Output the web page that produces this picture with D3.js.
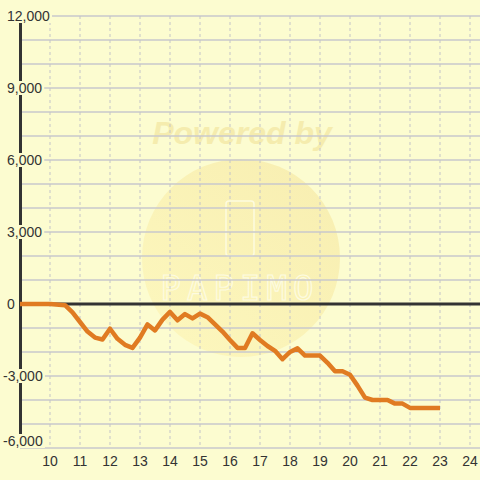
<!DOCTYPE html>
<html><head><meta charset="utf-8">
<script src="https://cdn.jsdelivr.net/npm/d3@7/dist/d3.min.js"></script>
<style>html,body{margin:0;padding:0;background:#fcfcd0;}svg{display:block;}</style>
</head><body><svg id="c" width="480" height="480"></svg>
<script>
const hours = [9,10,10.5,10.75,11,11.25,11.5,11.75,12,12.25,12.5,12.75,13,13.25,13.5,13.75,14,14.25,14.5,14.75,15,15.25,15.5,15.75,16,16.25,16.5,16.75,17,17.25,17.5,17.75,18,18.25,18.5,18.75,19,19.25,19.5,19.75,20,20.25,20.5,20.75,21,21.25,21.5,21.75,22,22.25,22.5,22.75,23];
const values = [0,0,-50,-350,-750,-1150,-1400,-1480,-1030,-1450,-1700,-1830,-1400,-850,-1100,-650,-330,-680,-420,-600,-400,-550,-850,-1150,-1500,-1830,-1830,-1220,-1500,-1750,-1950,-2300,-2000,-1850,-2150,-2150,-2150,-2450,-2800,-2800,-2950,-3400,-3900,-4000,-4000,-4000,-4150,-4150,-4330,-4330,-4330,-4330,-4330];
const xTicks = [10,11,12,13,14,15,16,17,18,19,20,21,22,23,24];
const yTicks = [12000,9000,6000,3000,0,-3000,-6000];
const yGrid = d3.range(-6000, 12001, 1000);

const svg = d3.select("#c");
const x = d3.scaleLinear().domain([9, 24]).range([20, 470]);
const y = d3.scaleLinear().domain([-6000, 12000]).range([448, 16]);

svg.append("rect").attr("width",480).attr("height",480).attr("fill","#fcfcd0");

// watermark
const defs = svg.append("defs");
const g = defs.append("linearGradient").attr("id","wg").attr("x1","0").attr("y1","1").attr("x2","1").attr("y2","0");
g.append("stop").attr("offset","0").attr("stop-color","#fdf6b8");
g.append("stop").attr("offset","1").attr("stop-color","#f6e9a6");
svg.append("circle").attr("cx",241).attr("cy",258).attr("r",99).attr("fill","url(#wg)").attr("opacity",0.75);
svg.append("text").attr("x",242).attr("y",144).attr("text-anchor","middle")
  .attr("font-family","Liberation Sans, Arial, sans-serif").attr("font-weight","bold").attr("font-style","italic")
  .attr("font-size",32).attr("fill","#f5ecae").text("Powered by");
svg.append("rect").attr("x",226).attr("y",201).attr("width",28).attr("height",55).attr("rx",3)
  .attr("fill","none").attr("stroke","#fdfbe0").attr("stroke-width",1.5);
svg.append("text").attr("x",240).attr("y",300).attr("text-anchor","middle")
  .attr("font-family","DejaVu Sans Mono, monospace").attr("font-size",34).attr("letter-spacing",6)
  .attr("fill","none").attr("stroke","#fdfbe0").attr("stroke-width",1.2).text("PAPIMO");

// horizontal grid
svg.append("g").selectAll("line").data(yGrid).join("line")
  .attr("x1",20).attr("x2",480).attr("y1",d=>y(d)).attr("y2",d=>y(d))
  .attr("stroke","#c8c8cc").attr("stroke-width",1.5);
// vertical grid
svg.append("g").selectAll("line").data(xTicks).join("line")
  .attr("x1",d=>x(d)).attr("x2",d=>x(d)).attr("y1",16).attr("y2",448)
  .attr("stroke","#c4c4c8").attr("stroke-width",1).attr("stroke-dasharray","3,3");

// zero line
svg.append("line").attr("x1",20).attr("x2",480).attr("y1",y(0)).attr("y2",y(0))
  .attr("stroke","#333333").attr("stroke-width",3);
// left axis
svg.append("line").attr("x1",20.5).attr("x2",20.5).attr("y1",16).attr("y2",448)
  .attr("stroke","#333333").attr("stroke-width",3);

// series
const line = d3.line().x((d,i)=>x(hours[i])).y(d=>y(d));
svg.append("path").datum(values).attr("d",line).attr("fill","none")
  .attr("stroke","#e07b22").attr("stroke-width",4.5).attr("stroke-linejoin","round");

// y labels with background
const fmt = d3.format(",");
const yl = svg.append("g").selectAll("g").data(yTicks).join("g");
yl.each(function(d){
  const gg = d3.select(this);
  const t = gg.append("text").attr("x", d<0 ? 3 : 7).attr("y", Math.min(y(d)+5, 446))
    .attr("font-family","Liberation Sans, Arial, sans-serif").attr("font-size",14).attr("fill","#333333")
    .text(d<0 ? "-"+fmt(-d) : fmt(d));
  const bb = t.node().getBBox();
  gg.insert("rect","text").attr("x",bb.x-1).attr("y",bb.y+1).attr("width",bb.width+3).attr("height",bb.height-2)
    .attr("fill","#fcfcd0");
});

// x labels
svg.append("g").selectAll("text").data(xTicks).join("text")
  .attr("x",d=>x(d)).attr("y",466).attr("text-anchor","middle")
  .attr("font-family","Liberation Sans, Arial, sans-serif").attr("font-size",14).attr("fill","#333333")
  .text(d=>d);
</script></body></html>
